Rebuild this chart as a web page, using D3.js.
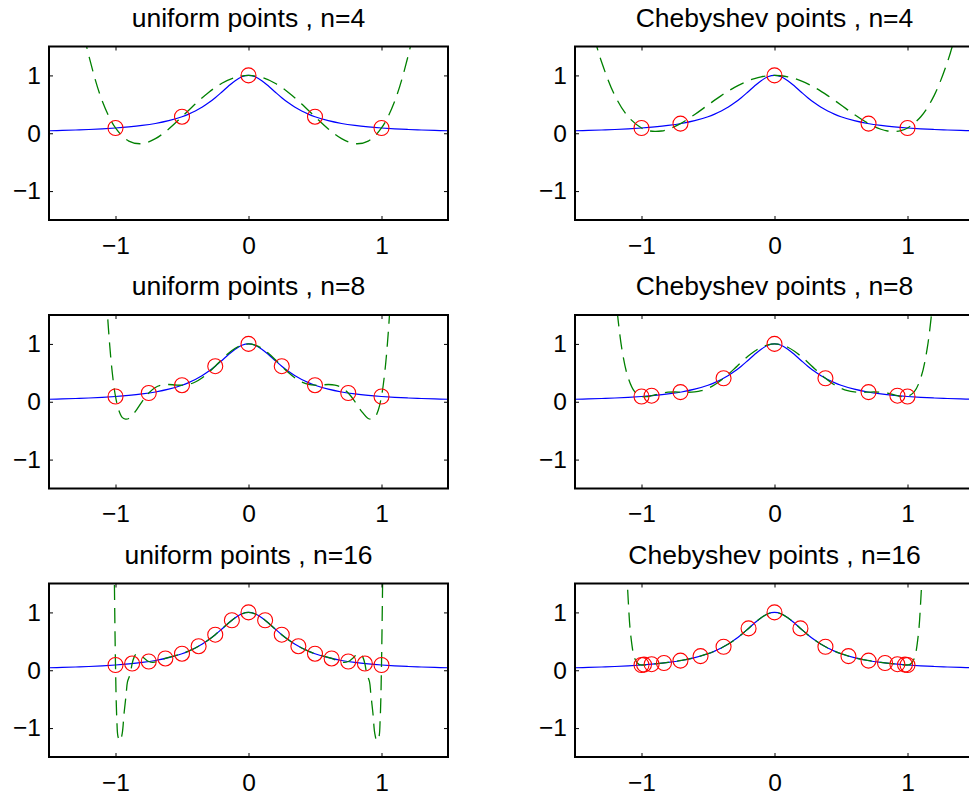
<!DOCTYPE html>
<html>
<head>
<meta charset="utf-8">
<script src="https://cdn.jsdelivr.net/npm/d3@7"></script>
<style>
  body { margin: 0; background: #fff; }
  svg { display: block; font-family: "Liberation Sans", Arial, Helvetica, sans-serif; }
</style>
</head>
<body>
<svg id="chart" width="969" height="797"></svg>
<script>
// ticks
var xTicks = [-1, 0, 1];
var yTicks = [-1, 0, 1];

// the function itself (blue)
var curveX = [-1.5,-1.4,-1.3,-1.2,-1.1,-1,-0.9,-0.8,-0.7,-0.6,-0.5,-0.45,-0.4,-0.35,-0.3,-0.25,-0.2,-0.15,-0.1,-0.05,0,0.05,0.1,0.15,0.2,0.25,0.3,0.35,0.4,0.45,0.5,0.6,0.7,0.8,0.9,1,1.1,1.2,1.3,1.4,1.5];
var curveY = [0.043,0.049,0.056,0.065,0.076,0.091,0.110,0.135,0.169,0.217,0.286,0.331,0.385,0.449,0.526,0.615,0.714,0.816,0.909,0.976,1,0.976,0.909,0.816,0.714,0.615,0.526,0.449,0.385,0.331,0.286,0.217,0.169,0.135,0.110,0.091,0.076,0.065,0.056,0.049,0.043];

// interpolation nodes (red circles)
var uniNodesX4 = [-1,-0.5,0,0.5,1];
var uniNodesY4 = [0.091,0.286,1,0.286,0.091];
var uniNodesX8 = [-1,-0.75,-0.5,-0.25,0,0.25,0.5,0.75,1];
var uniNodesY8 = [0.091,0.151,0.286,0.615,1,0.615,0.286,0.151,0.091];
var uniNodesX16 = [-1,-0.875,-0.75,-0.625,-0.5,-0.375,-0.25,-0.125,0,0.125,0.25,0.375,0.5,0.625,0.75,0.875,1];
var uniNodesY16 = [0.091,0.116,0.151,0.204,0.286,0.416,0.615,0.865,1,0.865,0.615,0.416,0.286,0.204,0.151,0.116,0.091];
var chebNodesX4 = [-1,-0.707,0,0.707,1];
var chebNodesY4 = [0.091,0.167,1,0.167,0.091];
var chebNodesX8 = [-1,-0.924,-0.707,-0.383,0,0.383,0.707,0.924,1];
var chebNodesY8 = [0.091,0.105,0.167,0.406,1,0.406,0.167,0.105,0.091];
var chebNodesX16 = [-1,-0.981,-0.924,-0.831,-0.707,-0.556,-0.383,-0.195,0,0.195,0.383,0.556,0.707,0.831,0.924,0.981,1];
var chebNodesY16 = [0.091,0.098,0.105,0.126,0.167,0.245,0.406,0.724,1,0.724,0.406,0.245,0.167,0.126,0.105,0.098,0.091];

// interpolating polynomials (green dashed)
var uniPolyX4 = [-1.3,-1.25,-1.2,-1.1,-1,-0.9,-0.8,-0.7,-0.6,-0.5,-0.4,-0.3,-0.2,-0.1,0,0.1,0.2,0.3,0.4,0.5,0.6,0.7,0.8,0.9,1,1.1,1.2,1.25,1.3];
var uniPolyY4 = [2.49,1.862,1.336,0.56,0.091,-0.136,-0.18,-0.094,0.074,0.286,0.506,0.706,0.864,0.965,1,0.965,0.864,0.706,0.506,0.286,0.074,-0.094,-0.18,-0.136,0.091,0.56,1.336,1.862,2.49];
var uniPolyX8 = [-1.1,-1.07,-1.05,-1.025,-1,-0.975,-0.95,-0.925,-0.9,-0.85,-0.8,-0.75,-0.7,-0.65,-0.6,-0.55,-0.5,-0.45,-0.4,-0.35,-0.3,-0.25,-0.2,-0.15,-0.1,-0.05,0,0.05,0.1,0.15,0.2,0.25,0.3,0.35,0.4,0.45,0.5,0.55,0.6,0.65,0.7,0.75,0.8,0.85,0.9,0.925,0.95,0.975,1,1.025,1.05,1.07,1.1];
var uniPolyY8 = [3.41,1.894,1.169,0.518,0.091,-0.15,-0.27,-0.30,-0.29,-0.165,0.004,0.151,0.246,0.289,0.298,0.290,0.286,0.300,0.341,0.410,0.505,0.615,0.731,0.838,0.924,0.980,1,0.980,0.924,0.838,0.731,0.615,0.505,0.410,0.341,0.300,0.286,0.290,0.298,0.289,0.246,0.151,0.004,-0.165,-0.29,-0.30,-0.27,-0.15,0.091,0.518,1.169,1.894,3.41];
var uniPolyX16 = [-1.01,-1,-0.99,-0.98,-0.965,-0.95,-0.935,-0.92,-0.91,-0.89,-0.875,-0.86,-0.85,-0.82,-0.79,-0.77,-0.75,-0.72,-0.69,-0.65,-0.625,-0.5625,-0.5,-0.4375,-0.375,-0.3125,-0.25,-0.1875,-0.125,-0.0625,0,0.0625,0.125,0.1875,0.25,0.3125,0.375,0.4375,0.5,0.5625,0.625,0.65,0.69,0.72,0.75,0.77,0.79,0.82,0.85,0.86,0.875,0.89,0.91,0.92,0.935,0.95,0.965,0.98,0.99,1,1.01];
var uniPolyY16 = [1.87,0.091,-0.85,-1.16,-1.22,-1.1,-0.73,-0.42,-0.2,-0.07,0.116,0.227,0.268,0.281,0.221,0.180,0.151,0.135,0.146,0.181,0.204,0.246,0.286,0.343,0.416,0.506,0.615,0.740,0.865,0.962,1,0.962,0.865,0.740,0.615,0.506,0.416,0.343,0.286,0.246,0.204,0.181,0.146,0.135,0.151,0.180,0.221,0.281,0.268,0.227,0.116,-0.07,-0.2,-0.42,-0.73,-1.1,-1.22,-1.16,-0.85,0.091,1.87];
var chebPolyX4 = [-1.4,-1.35,-1.3,-1.2,-1.1,-1,-0.95,-0.9,-0.85,-0.8,-0.707,-0.6,-0.5,-0.4,-0.3,-0.2,-0.15,-0.1,-0.05,0,0.05,0.1,0.15,0.2,0.3,0.4,0.5,0.6,0.707,0.8,0.85,0.9,0.95,1,1.1,1.2,1.3,1.35,1.4];
var chebPolyY4 = [2.069,1.615,1.231,0.651,0.285,0.091,0.046,0.031,0.039,0.069,0.167,0.324,0.489,0.651,0.794,0.905,0.946,0.976,0.994,1,0.994,0.976,0.946,0.905,0.794,0.651,0.489,0.324,0.167,0.069,0.039,0.031,0.046,0.091,0.285,0.651,1.231,1.615,2.069];
var chebPolyX8 = [-1.2,-1.15,-1.1,-1.05,-1,-0.96,-0.924,-0.85,-0.8,-0.75,-0.707,-0.65,-0.6,-0.55,-0.5,-0.45,-0.383,-0.35,-0.3,-0.25,-0.2,-0.15,-0.1,-0.05,0,0.05,0.1,0.15,0.2,0.25,0.3,0.35,0.383,0.45,0.5,0.55,0.6,0.65,0.707,0.75,0.8,0.85,0.924,0.96,1,1.05,1.1,1.15,1.2];
var chebPolyY8 = [1.957,0.947,0.413,0.170,0.091,0.088,0.105,0.148,0.165,0.169,0.167,0.164,0.170,0.191,0.232,0.293,0.406,0.470,0.575,0.683,0.785,0.873,0.942,0.985,1,0.985,0.942,0.873,0.785,0.683,0.575,0.470,0.406,0.293,0.232,0.191,0.170,0.164,0.167,0.169,0.165,0.148,0.105,0.088,0.091,0.170,0.413,0.947,1.957];
var chebPolyX16 = [-1.13,-1.11,-1.1,-1.08,-1.05,-1.02,-1,-0.9,-0.8,-0.7,-0.6,-0.5,-0.45,-0.4,-0.35,-0.3,-0.25,-0.2,-0.15,-0.1,-0.05,0,0.05,0.1,0.15,0.2,0.25,0.3,0.35,0.4,0.45,0.5,0.6,0.7,0.8,0.9,1,1.02,1.05,1.08,1.1,1.11,1.13];
var chebPolyY16 = [3.38,1.734,1.22,0.586,0.200,0.101,0.091,0.110,0.135,0.169,0.217,0.286,0.331,0.385,0.449,0.526,0.615,0.714,0.816,0.909,0.976,1,0.976,0.909,0.816,0.714,0.615,0.526,0.449,0.385,0.331,0.286,0.217,0.169,0.135,0.110,0.091,0.101,0.200,0.586,1.22,1.734,3.38];

var panels = [
    { title: 'uniform points , n=4',    col: 0, row: 0, nx: uniNodesX4,   ny: uniNodesY4,   px: uniPolyX4,   py: uniPolyY4 },
    { title: 'Chebyshev points , n=4',  col: 1, row: 0, nx: chebNodesX4,  ny: chebNodesY4,  px: chebPolyX4,  py: chebPolyY4 },
    { title: 'uniform points , n=8',    col: 0, row: 1, nx: uniNodesX8,   ny: uniNodesY8,   px: uniPolyX8,   py: uniPolyY8 },
    { title: 'Chebyshev points , n=8',  col: 1, row: 1, nx: chebNodesX8,  ny: chebNodesY8,  px: chebPolyX8,  py: chebPolyY8 },
    { title: 'uniform points , n=16',   col: 0, row: 2, nx: uniNodesX16,  ny: uniNodesY16,  px: uniPolyX16,  py: uniPolyY16 },
    { title: 'Chebyshev points , n=16', col: 1, row: 2, nx: chebNodesX16, ny: chebNodesY16, px: chebPolyX16, py: chebPolyY16 }
];

var colLeft = [49, 575];
var rowTop = [46.5, 315, 583.5];
var width = 399, height = 173.5;

var svg = d3.select('#chart');
svg.append('rect').attr('width', 969).attr('height', 797).attr('fill', '#fff');

panels.forEach(function (p, k) {
    var xScale = d3.scaleLinear().domain([-1.5, 1.5]).range([0, width]);
    var yScale = d3.scaleLinear().domain([-1.5, 1.5]).range([height, 0]);

    var g = svg.append('g')
        .attr('transform', `translate(${colLeft[p.col]},${rowTop[p.row]})`);

    g.append('clipPath').attr('id', 'clip' + k)
        .append('rect').attr('width', width).attr('height', height);

    var plot = g.append('g').attr('clip-path', `url(#clip${k})`);

    var line = d3.line()
        .x(d => xScale(d[0]))
        .y(d => yScale(d[1]))
        .curve(d3.curveCatmullRom.alpha(0.5));

    // function
    plot.append('path')
        .datum(d3.zip(curveX, curveY))
        .attr('d', line)
        .attr('fill', 'none')
        .attr('stroke', '#0000ff')
        .attr('stroke-width', 1.2);

    // polynomial
    plot.append('path')
        .datum(d3.zip(p.px, p.py))
        .attr('d', line)
        .attr('fill', 'none')
        .attr('stroke', '#008000')
        .attr('stroke-width', 1.3)
        .attr('stroke-dasharray', '15,8');

    // nodes
    g.append('g').selectAll('circle')
        .data(d3.zip(p.nx, p.ny))
        .join('circle')
        .attr('cx', d => xScale(d[0]))
        .attr('cy', d => yScale(d[1]))
        .attr('r', 7.5)
        .attr('fill', 'none')
        .attr('stroke', '#ff0000')
        .attr('stroke-width', 1.1);

    // axes, ticks pointing inward on all four sides
    var styleAxis = a => {
        a.attr('font-size', 24.5)
            .attr('font-family', '"Liberation Sans", Arial, Helvetica, sans-serif')
            .attr('color', '#000');
        a.select('.domain').remove();
    };
    g.append('g')
        .attr('transform', `translate(0,${height})`)
        .call(d3.axisBottom(xScale).tickValues(xTicks).tickFormat(d3.format('d')).tickSize(-4).tickPadding(16.5))
        .call(styleAxis);
    g.append('g')
        .call(d3.axisLeft(yScale).tickValues(yTicks).tickFormat(d3.format('d')).tickSize(-4).tickPadding(8))
        .call(styleAxis);
    g.append('g')
        .call(d3.axisTop(xScale).tickValues(xTicks).tickSize(-4).tickFormat(''))
        .call(styleAxis);
    g.append('g')
        .attr('transform', `translate(${width},0)`)
        .call(d3.axisRight(yScale).tickValues(yTicks).tickSize(-4).tickFormat(''))
        .call(styleAxis);

    g.append('rect')
        .attr('width', width)
        .attr('height', height)
        .attr('fill', 'none')
        .attr('stroke', '#000')
        .attr('stroke-width', 2);

    g.append('text')
        .attr('x', width / 2)
        .attr('y', -20)
        .attr('text-anchor', 'middle')
        .attr('font-size', 26.5)
        .attr('fill', '#000')
        .text(p.title);
});
</script>
</body>
</html>
